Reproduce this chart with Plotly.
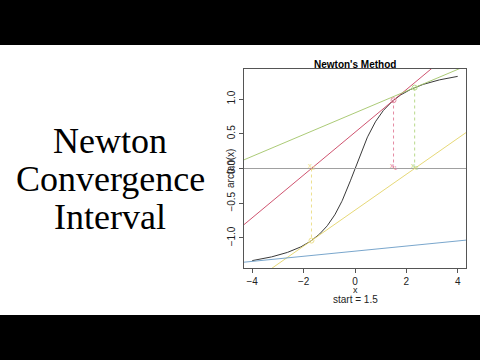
import numpy as np
import plotly.graph_objects as go

# Newton iterates (start = 1.5)
iterates = [1.5, -1.694, 2.322, -5.12]
tangent_colors = ["#C9405F", "#E3D468", "#A2C466", "#6A9CC6"]
dot_colors = ["#E58AA2", "#EDE08E", "#B8D98A"]
labels = ["x<sub>1</sub>", "x<sub>2</sub>", "x<sub>3</sub>"]
xticks = [-4, -2, 0, 2, 4]
yticks = [-1.0, -0.5, 0.0, 0.5, 1.0]
xlim = [-4.32, 4.32]
ylim = [-1.432, 1.432]
title_lines = ["Newton", "Convergence", "Interval"]

W, H = 480, 360
L, R, T, B = 244, 466, 69, 268


def px(x):
    return (x - L) / (R - L)


def py(y):
    return (B - y) / (B - T)


fig = go.Figure()

# arctan curve
xc = np.linspace(-4, 4, 400)
fig.add_trace(go.Scatter(x=xc, y=np.arctan(xc), mode="lines",
                         line=dict(color="#222222", width=0.9), hoverinfo="skip"))

# horizontal line at 0
fig.add_trace(go.Scatter(x=xlim, y=[0, 0], mode="lines",
                         line=dict(color="#a0a0a0", width=1.2), hoverinfo="skip"))

# tangent lines
for xi, col in zip(iterates, tangent_colors):
    f = np.arctan(xi)
    s = 1.0 / (1.0 + xi * xi)
    xs = np.array(xlim)
    fig.add_trace(go.Scatter(x=xs, y=f + s * (xs - xi), mode="lines",
                             line=dict(color=col, width=0.9), hoverinfo="skip"))

# dotted verticals and labels
for xi, col, lab in zip(iterates[:3], dot_colors, labels):
    f = np.arctan(xi)
    fig.add_trace(go.Scatter(x=[xi, xi], y=[0, f], mode="lines",
                             line=dict(color=col, width=1, dash="dot"), hoverinfo="skip"))
    fig.add_trace(go.Scatter(x=[xi], y=[f], mode="markers",
                             marker=dict(symbol="circle-open", size=5, color=col, line=dict(width=1)),
                             hoverinfo="skip"))
    fig.add_annotation(x=xi, y=0.04, text=lab, showarrow=False,
                       font=dict(family="Liberation Sans", size=8, color=col),
                       xanchor="center", yanchor="middle")

axis_common = dict(showline=True, linecolor="#555555", linewidth=1, mirror=True,
                   ticks="outside", ticklen=4, tickcolor="#555555", showgrid=False,
                   zeroline=False, tickfont=dict(family="Liberation Sans", size=10, color="#222"))
fig.update_xaxes(range=xlim, tickvals=xticks, ticktext=[str(v).replace("-", "\u2212") for v in xticks],
                 **axis_common)
fig.update_yaxes(range=ylim, tickvals=yticks,
                 ticktext=[f"{v:.1f}".replace("-", "\u2212") for v in yticks],
                 tickangle=-90, **axis_common)

shapes = [
    dict(type="rect", xref="paper", yref="paper", x0=px(0), x1=px(W), y0=py(45), y1=py(0),
         fillcolor="black", line=dict(width=0), layer="above"),
    dict(type="rect", xref="paper", yref="paper", x0=px(0), x1=px(W), y0=py(H), y1=py(315),
         fillcolor="black", line=dict(width=0), layer="above"),
]

ann = [
    dict(x=px(355), y=py(64), text="<b>Newton's Method</b>",
         font=dict(family="Liberation Sans", size=10, color="black")),
    dict(x=px(355), y=py(290), text="x", height=8,
         font=dict(family="Liberation Sans", size=9, color="#222222")),
    dict(x=px(355), y=py(298.5), text="start = 1.5", height=10,
         font=dict(family="Liberation Sans", size=10, color="#222222")),
    dict(x=px(230), y=py(169), text="arctan(x)", textangle=-90,
         font=dict(family="Liberation Sans", size=10, color="#222222")),
]
for yc, t in zip([141, 179, 217], title_lines):
    ann.append(dict(x=px(110), y=py(yc), text=t,
                    font=dict(family="Liberation Serif", size=36, color="black")))
for a in ann:
    a.update(xref="paper", yref="paper", showarrow=False, xanchor="center", yanchor="middle")
    fig.add_annotation(**a)

fig.update_layout(width=W, height=H, margin=dict(l=L, r=W - R, t=T, b=H - B),
                  paper_bgcolor="white", plot_bgcolor="white", showlegend=False,
                  shapes=shapes)

fig.write_html("out.html", config={"displayModeBar": False},
               post_script="document.body.style.margin='0';document.body.style.overflow='hidden';")
